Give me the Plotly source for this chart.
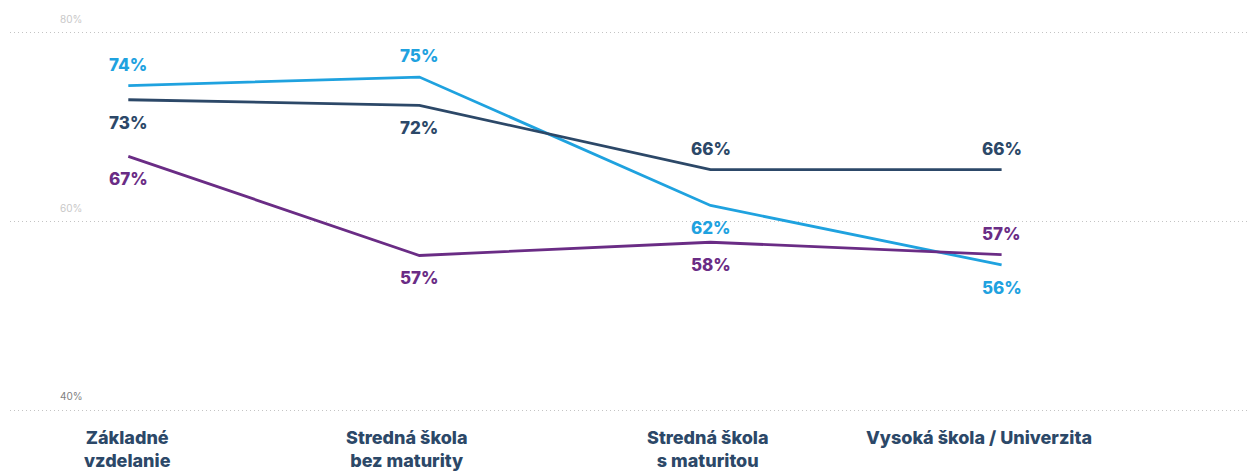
import plotly.graph_objects as go

categories = ["Základné<br>vzdelanie", "Stredná škola<br>bez maturity",
              "Stredná škola<br>s maturitou", "Vysoká škola / Univerzita"]
series_names = ["Séria A", "Séria B", "Séria C"]
values_light = [74.4, 75.3, 61.7, 55.4]
values_dark = [72.9, 72.3, 65.5, 65.5]
values_purple = [66.9, 56.4, 57.8, 56.5]
labels_light = ["74%", "75%", "62%", "56%"]
labels_dark = ["73%", "72%", "66%", "66%"]
labels_purple = ["67%", "57%", "58%", "57%"]
y_ticks = [40, 60, 80]
y_tick_labels = ["40%", "60%", "80%"]

C_LIGHT = "#1fa2df"
C_DARK = "#2c4868"
C_PURPLE = "#6a2c85"
FONT = "Inter"
CAT_LABEL_XSHIFT = [-1, -13, -3, -23]

x_idx = list(range(len(categories)))

fig = go.Figure()
series = [
    (values_light, labels_light, C_LIGHT, ["top", "top", "bottom", "bottom"]),
    (values_dark, labels_dark, C_DARK, ["bottom", "bottom", "top", "top"]),
    (values_purple, labels_purple, C_PURPLE, ["bottom", "bottom", "bottom", "top"]),
]
annotations = []
for (vals, labs, col, pos), name in zip(series, series_names):
    fig.add_trace(go.Scatter(x=x_idx, y=vals, mode="lines", name=name,
                             line=dict(color=col, width=2.8), hoverinfo="skip"))
    for xi, v, lab, p in zip(x_idx, vals, labs, pos):
        annotations.append(dict(x=xi, y=v, xref="x", yref="y", text=lab, showarrow=False,
                                yshift=21 if p == "top" else -23,
                                font=dict(family=FONT, size=17, color=col, weight=800)))

tick_colors = {40: "#808080", 60: "#c8c8c8", 80: "#c8c8c8"}
for t, tl in zip(y_ticks, y_tick_labels):
    annotations.append(dict(x=0.049, y=t, xref="paper", yref="y", text=tl, showarrow=False,
                            yshift=14, xanchor="center",
                            font=dict(family=FONT, size=10, color=tick_colors[t])))

for xi, cat, xs in zip(x_idx, categories, CAT_LABEL_XSHIFT):
    annotations.append(dict(x=xi, y=0, xref="x", yref="paper", text=cat, showarrow=False,
                            xanchor="center", yanchor="top", yshift=-10, xshift=xs,
                            font=dict(family=FONT, size=18, color=C_DARK, weight=800)))

fig.update_layout(
    width=1255, height=472,
    margin=dict(l=2, r=8, t=20, b=65),
    paper_bgcolor="white", plot_bgcolor="white",
    showlegend=False,
    annotations=annotations,
    xaxis=dict(range=[-0.4064, 3.8705], tickvals=x_idx, showticklabels=False,
               showgrid=False, zeroline=False, showline=False, ticks="",
               automargin=False, fixedrange=True),
    yaxis=dict(range=[39.5, 80.5], tickvals=y_ticks, showticklabels=False,
               showgrid=True, gridcolor="#c4c4c4", griddash="1px,3px", gridwidth=1,
               zeroline=False, showline=False, automargin=False, fixedrange=True),
)
fig.write_html("out.html")
